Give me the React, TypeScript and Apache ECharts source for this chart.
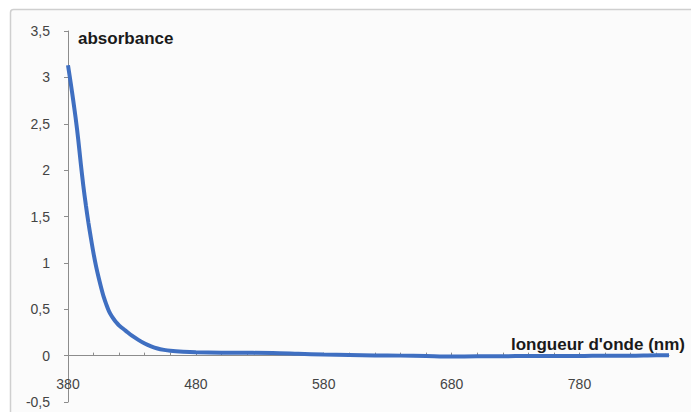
import React, { useEffect, useRef } from "react";
import * as echarts from "echarts";

const wavelengths = [
  380, 382, 384, 386, 388, 390, 392, 394, 396, 398, 400, 402, 404, 406, 408, 410,
  412, 414, 416, 418, 420, 425, 430, 435, 440, 445, 450, 455, 460, 470, 480, 500,
  520, 540, 560, 580, 600, 620, 640, 660, 680, 700, 720, 740, 760, 780, 800, 820,
  840, 850,
];
const absorbance = [
  3.13, 2.95, 2.76, 2.56, 2.33, 2.07, 1.83, 1.62, 1.43, 1.26, 1.1, 0.96, 0.84, 0.73, 0.63, 0.55,
  0.48, 0.43, 0.39, 0.355, 0.325, 0.27, 0.215, 0.17, 0.13, 0.1, 0.077, 0.062, 0.052, 0.042, 0.036, 0.031,
  0.03, 0.028, 0.02, 0.012, 0.008, 0.002, 0.0, -0.005, -0.01, -0.008, -0.006, -0.004, -0.003, -0.004, 0.0, -0.002,
  0.004, 0.004,
];
const xLabelValues = [380, 480, 580, 680, 780];
const xTickValues = [
  380, 400, 420, 440, 460, 480, 500, 520, 540, 560, 580, 600, 620, 640, 660, 680, 700,
  720, 740, 760, 780, 800, 820, 840,
];
const yTitle = "absorbance";
const xTitle = "longueur d'onde (nm)";

export default function App() {
  const ref = useRef<HTMLDivElement>(null);
  useEffect(() => {
    if (!ref.current) return;
    const chart = echarts.init(ref.current, null, { renderer: "svg" });
    const font = "'Liberation Sans', Arial, sans-serif";
    chart.setOption({
      animation: false,
      backgroundColor: "#ffffff",
      graphic: [
        {
          type: "rect",
          z: -10,
          shape: { x: 10.5, y: 9.5, width: 700, height: 420, r: 3 },
          style: { fill: "#fbfbfb", stroke: "#cfcfcf", lineWidth: 1.5 },
          silent: true,
        },
        {
          type: "text",
          x: 78,
          y: 38,
          style: {
            text: yTitle,
            font: `bold 17px ${font}`,
            fill: "#1a1a1a",
            verticalAlign: "middle",
            align: "left",
          },
        },
        {
          type: "text",
          x: 685,
          y: 344,
          style: {
            text: xTitle,
            font: `bold 17px ${font}`,
            fill: "#1a1a1a",
            verticalAlign: "middle",
            align: "right",
          },
        },
      ],
      grid: { left: 68, right: 22, top: 31, bottom: 10, containLabel: false, outerBoundsMode: "none" },
      xAxis: {
        type: "value",
        min: 380,
        max: 850,
        axisLine: { onZero: true, lineStyle: { color: "#8c8c8c", width: 1 } },
        axisTick: {
          show: true,
          inside: true,
          length: 3,
          customValues: xTickValues,
          lineStyle: { color: "#8c8c8c" },
        },
        axisLabel: {
          customValues: xLabelValues,
          margin: -25,
          color: "#444",
          fontSize: 14,
          fontFamily: font,
        },
        splitLine: { show: false },
      },
      yAxis: {
        type: "value",
        min: -0.5,
        max: 3.5,
        interval: 0.5,
        axisLine: { show: true, lineStyle: { color: "#8c8c8c", width: 1 } },
        axisTick: { show: true, length: 4, lineStyle: { color: "#8c8c8c" } },
        axisLabel: {
          margin: 18,
          color: "#444",
          fontSize: 14,
          fontFamily: font,
          formatter: (v: number) => String(v).replace(".", ","),
        },
        splitLine: { show: false },
      },
      series: [
        {
          type: "line",
          data: wavelengths.map((w, i) => [w, absorbance[i]]),
          showSymbol: false,
          smooth: 0.3,
          lineStyle: { color: "#3f6fc1", width: 4 },
        },
      ],
    });
    return () => chart.dispose();
  }, []);
  return <div ref={ref} style={{ width: 691, height: 412, position: "absolute", left: 0, top: 0 }} />;
}
